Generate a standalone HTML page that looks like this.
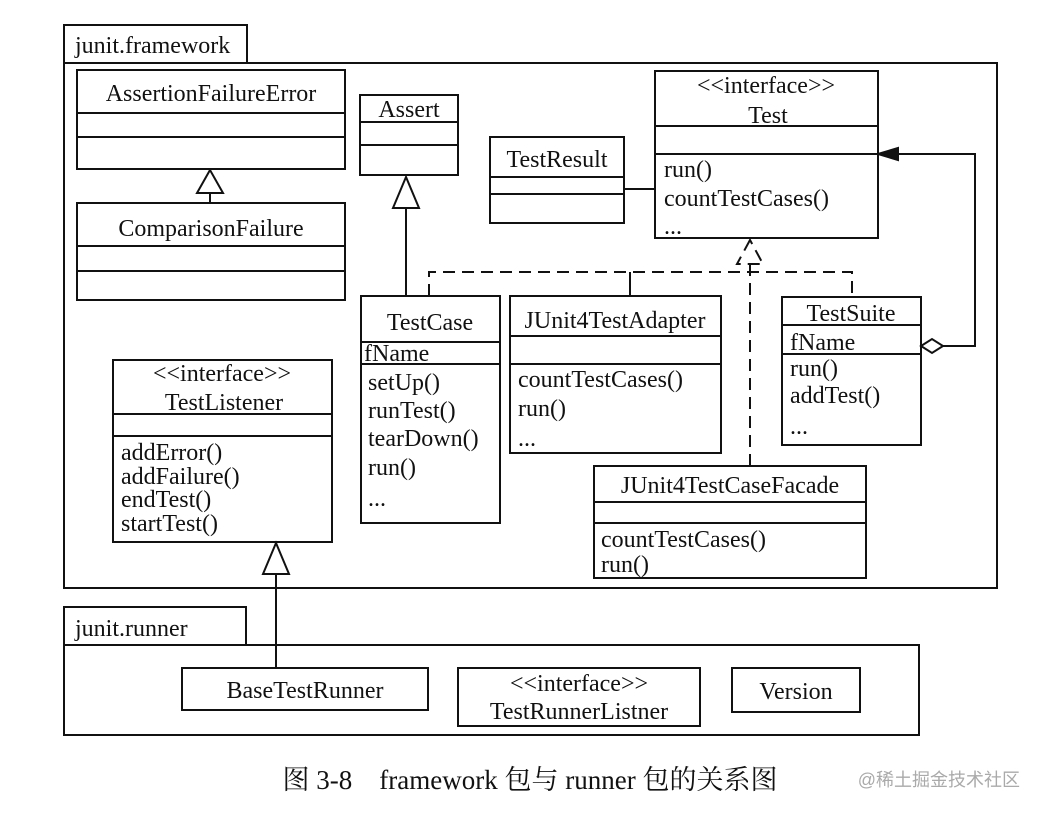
<!DOCTYPE html>
<html><head><meta charset="utf-8"><style>
body{margin:0;background:#fff}
svg text{font-family:"Liberation Serif","Noto Serif CJK SC",serif;font-size:24px;fill:#111}
</style></head><body>
<svg width="1041" height="812" xmlns="http://www.w3.org/2000/svg">
<g fill="none" stroke="#111" stroke-width="2">
<rect x="64" y="25" width="183" height="38"/>
<rect x="64" y="63" width="933" height="525"/>
<rect x="64" y="607" width="182" height="38"/>
<rect x="64" y="645" width="855" height="90"/>
<rect x="77" y="70" width="268" height="99"/><line x1="77" y1="113" x2="345" y2="113"/><line x1="77" y1="137" x2="345" y2="137"/>
<rect x="77" y="203" width="268" height="97"/><line x1="77" y1="246" x2="345" y2="246"/><line x1="77" y1="271" x2="345" y2="271"/>
<line x1="210" y1="193" x2="210" y2="203"/>
<polygon points="210,170 197,193 223,193"/>
<rect x="360" y="95" width="98" height="80"/><line x1="360" y1="122" x2="458" y2="122"/><line x1="360" y1="145" x2="458" y2="145"/>
<polygon points="406,177 393,208 419,208"/>
<line x1="406" y1="208" x2="406" y2="296"/>
<rect x="490" y="137" width="134" height="86"/><line x1="490" y1="177" x2="624" y2="177"/><line x1="490" y1="194" x2="624" y2="194"/>
<line x1="624" y1="189" x2="655" y2="189"/>
<rect x="655" y="71" width="223" height="167"/><line x1="655" y1="126" x2="878" y2="126"/><line x1="655" y1="154" x2="878" y2="154"/>
<rect x="361" y="296" width="139" height="227"/><line x1="361" y1="342" x2="500" y2="342"/><line x1="361" y1="364" x2="500" y2="364"/>
<rect x="510" y="296" width="211" height="157"/><line x1="510" y1="336" x2="721" y2="336"/><line x1="510" y1="364" x2="721" y2="364"/>
<line x1="630" y1="272" x2="630" y2="296"/>
<rect x="782" y="297" width="139" height="148"/><line x1="782" y1="325" x2="921" y2="325"/><line x1="782" y1="354" x2="921" y2="354"/>
<rect x="594" y="466" width="272" height="112"/><line x1="594" y1="502" x2="866" y2="502"/><line x1="594" y1="523" x2="866" y2="523"/>
<g stroke-dasharray="12,7">
<polyline points="429,296 429,272 852,272 852,297"/>
<line x1="750" y1="264" x2="750" y2="466"/>
<polygon points="750,240 737,264 763,264"/>
</g>
<polyline points="943,346 975,346 975,154 895,154"/>
<polygon points="921,346 932,339 943,346 932,353" fill="#fff"/>
<polygon points="878,154 898,148 898,160" fill="#111"/>
<rect x="113" y="360" width="219" height="182"/><line x1="113" y1="414" x2="332" y2="414"/><line x1="113" y1="436" x2="332" y2="436"/>
<polygon points="276,543 263,574 289,574"/>
<line x1="276" y1="574" x2="276" y2="668"/>
<rect x="182" y="668" width="246" height="42"/>
<rect x="458" y="668" width="242" height="58"/>
<rect x="732" y="668" width="128" height="44"/>
</g>
<text x="75" y="53">junit.framework</text>
<text x="75" y="636">junit.runner</text>
<text x="211" y="101" text-anchor="middle">AssertionFailureError</text>
<text x="211" y="236" text-anchor="middle">ComparisonFailure</text>
<text x="409" y="117" text-anchor="middle">Assert</text>
<text x="557" y="167" text-anchor="middle">TestResult</text>
<text x="766" y="93" text-anchor="middle">&lt;&lt;interface&gt;&gt;</text>
<text x="768" y="123" text-anchor="middle">Test</text>
<text x="664" y="177">run()</text>
<text x="664" y="206">countTestCases()</text>
<text x="664" y="234">...</text>
<text x="430" y="330" text-anchor="middle">TestCase</text>
<text x="364" y="361">fName</text>
<text x="368" y="390">setUp()</text>
<text x="368" y="418">runTest()</text>
<text x="368" y="446">tearDown()</text>
<text x="368" y="475">run()</text>
<text x="368" y="506">...</text>
<text x="615" y="328" text-anchor="middle">JUnit4TestAdapter</text>
<text x="518" y="387">countTestCases()</text>
<text x="518" y="416">run()</text>
<text x="518" y="446">...</text>
<text x="851" y="321" text-anchor="middle">TestSuite</text>
<text x="790" y="350">fName</text>
<text x="790" y="376">run()</text>
<text x="790" y="403">addTest()</text>
<text x="790" y="434">...</text>
<text x="730" y="493" text-anchor="middle">JUnit4TestCaseFacade</text>
<text x="601" y="547">countTestCases()</text>
<text x="601" y="572">run()</text>
<text x="222" y="381" text-anchor="middle">&lt;&lt;interface&gt;&gt;</text>
<text x="224" y="410" text-anchor="middle">TestListener</text>
<text x="121" y="460">addError()</text>
<text x="121" y="484">addFailure()</text>
<text x="121" y="507">endTest()</text>
<text x="121" y="531">startTest()</text>
<text x="305" y="698" text-anchor="middle">BaseTestRunner</text>
<text x="579" y="691" text-anchor="middle">&lt;&lt;interface&gt;&gt;</text>
<text x="579" y="719" text-anchor="middle">TestRunnerListner</text>
<text x="796" y="699" text-anchor="middle">Version</text>
<text x="530" y="789" text-anchor="middle" style="font-size:27px">图 3-8　framework 包与 runner 包的关系图</text>
<text x="1020" y="786" text-anchor="end" style="font-family:'Liberation Sans','Noto Sans CJK SC',sans-serif;font-size:18px;fill:#aaa">@稀土掘金技术社区</text>
</svg>
</body></html>
